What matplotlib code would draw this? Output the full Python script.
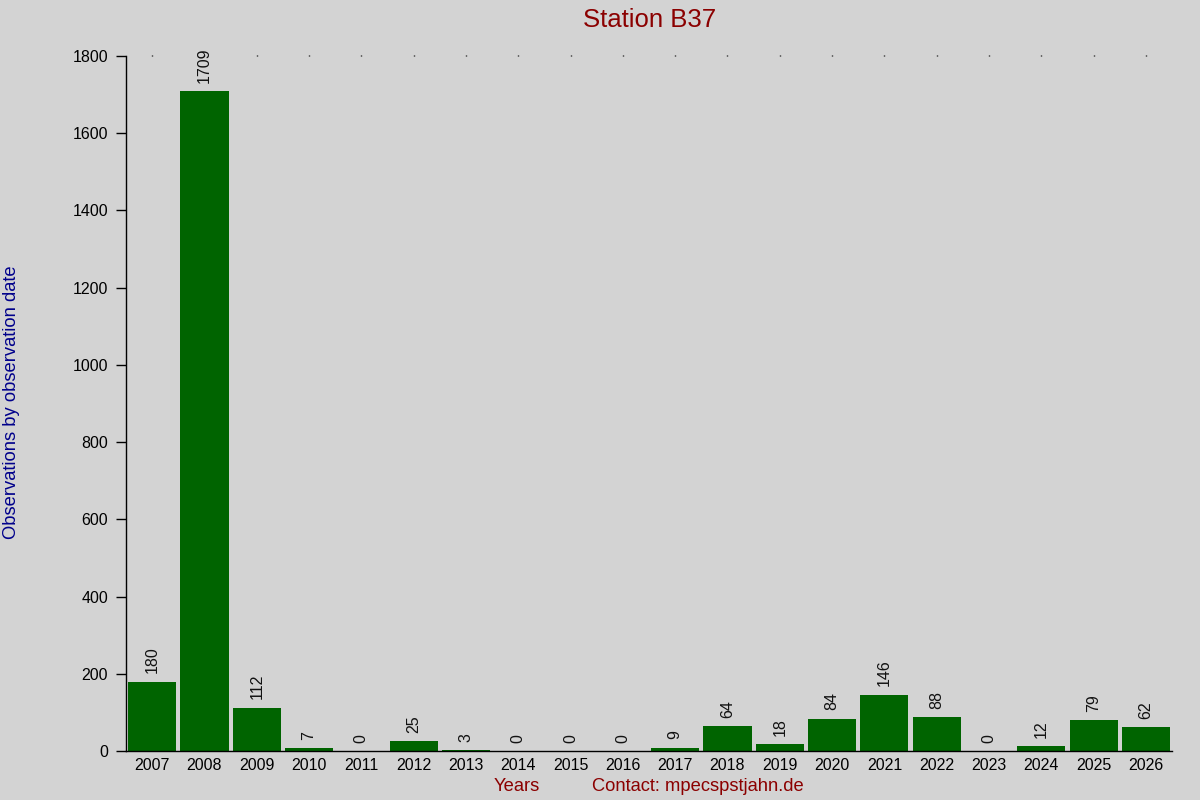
import matplotlib
matplotlib.use("Agg")
import matplotlib.pyplot as plt

years = [str(y) for y in range(2007, 2027)]
counts = [180, 1709, 112, 7, 0, 25, 3, 0, 0, 0, 9, 64, 18, 84, 146, 88, 0, 12, 79, 62]
yticks = [0, 200, 400, 600, 800, 1000, 1200, 1400, 1600, 1800]

plt.rcParams['font.family'] = ['Liberation Sans', 'DejaVu Sans']

fig = plt.figure(figsize=(12, 8), dpi=100, facecolor='#d3d3d3')
ax = fig.add_axes([0.105, 0.06125, 0.8717, 0.86875])
ax.set_facecolor('#d3d3d3')

x = list(range(len(years)))
ax.bar(x, counts, width=0.92, color='#006400')
for xi, v in zip(x, counts):
    ax.annotate(str(v), (xi, v), xytext=(0, 6), textcoords='offset points',
                rotation=90, ha='center', va='bottom', fontsize=11.5, color='#111111')

ax.set_xlim(-0.5, len(years) - 0.5)
ax.set_ylim(0, 1800)
ax.set_yticks(yticks)
ax.set_yticklabels([str(t) for t in yticks], fontsize=11.5)
ax.set_xticks(x)
ax.set_xticklabels(years, fontsize=11.5)
ax.tick_params(axis='x', which='both', bottom=False, top=True, length=1, width=1, pad=4)
ax.tick_params(axis='y', length=7, width=1, direction='out', pad=6)
for s in ['top', 'right']:
    ax.spines[s].set_visible(False)
for s in ['left', 'bottom']:
    ax.spines[s].set_color('black')
    ax.spines[s].set_linewidth(1)

fig.text(0.5417, 0.975, 'Station B37', ha='center', va='center', fontsize=18.5, color='#8b0000')
fig.text(0.01, 0.497, 'Observations by observation date', rotation=90, ha='center', va='center',
         fontsize=13.2, color='#00008b')
fig.text(0.431, 0.017, 'Years', ha='center', va='center', fontsize=13.2, color='#8b0000')
fig.text(0.5817, 0.017, 'Contact: mpecspstjahn.de', ha='center', va='center', fontsize=13.2, color='#8b0000')

fig.savefig('out.png', dpi=100, facecolor='#d3d3d3')
